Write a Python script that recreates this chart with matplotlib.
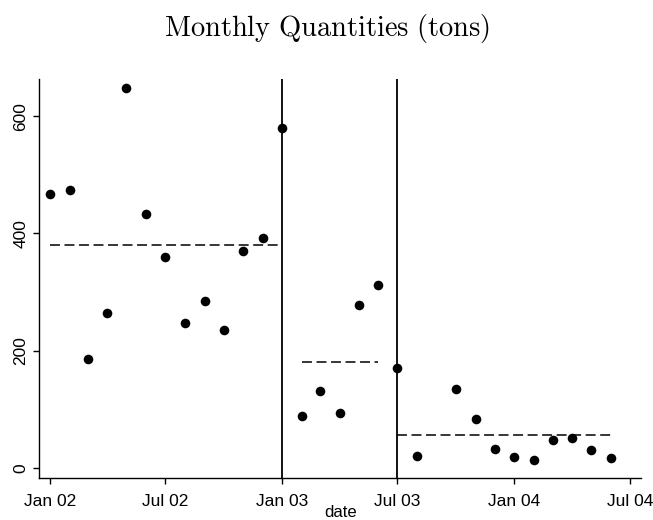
import matplotlib
matplotlib.use("Agg")
import matplotlib.pyplot as plt
import matplotlib.dates as mdates
import numpy as np

# Data
months = ["2002-01", "2002-02", "2002-03", "2002-04", "2002-05", "2002-06",
          "2002-07", "2002-08", "2002-09", "2002-10", "2002-11", "2002-12",
          "2003-01", "2003-02", "2003-03", "2003-04", "2003-05", "2003-06",
          "2003-07", "2003-08", "2003-10", "2003-11", "2003-12",
          "2004-01", "2004-02", "2004-03", "2004-04", "2004-05", "2004-06"]
quantities = [468, 474, 186, 265, 647, 433,
              360, 247, 285, 236, 371, 392,
              579, 89, 132, 95, 279, 312,
              171, 21, 135, 84, 33,
              20, 14, 49, 51, 32, 18]

# Period means (start month, end month)
period_starts = ["2002-01", "2003-02", "2003-07"]
period_ends = ["2003-01", "2003-06", "2004-06"]
break_months = ["2003-01", "2003-07"]

tick_months = ["2002-01", "2002-07", "2003-01", "2003-07", "2004-01", "2004-07"]
tick_labels = ["Jan 02", "Jul 02", "Jan 03", "Jul 03", "Jan 04", "Jul 04"]
yticks = [0, 200, 400, 600]

plt.rcParams['mathtext.fontset'] = 'cm'
plt.rcParams['font.family'] = ['Liberation Sans', 'DejaVu Sans']

dates = np.array(months, dtype="datetime64[M]").astype("datetime64[D]")
q = np.array(quantities, dtype=float)

fig = plt.figure(figsize=(6.53, 5.2), dpi=100)
ax = fig.add_axes([0.0602, 0.0802, 0.9214, 0.7688])

ax.scatter(dates, q, s=48, color="black", zorder=3, linewidths=0)

for s, e in zip(period_starts, period_ends):
    sd = np.datetime64(s, "M").astype("datetime64[D]")
    ed = np.datetime64(e, "M").astype("datetime64[D]")
    mask = (dates >= sd) & (dates <= ed)
    m = q[mask].mean()
    ax.plot([sd, ed], [m, m], color="black", lw=1.1, ls=(0, (6.5, 3.0)), zorder=2)

for b in break_months:
    bd = np.datetime64(b, "M").astype("datetime64[D]")
    ax.axvline(bd, color="black", lw=1.3, zorder=2)

tick_dates = np.array(tick_months, dtype="datetime64[M]").astype("datetime64[D]")
ax.set_xticks(tick_dates)
ax.set_xticklabels(tick_labels, fontsize=12.5)
ax.set_xlim(np.datetime64("2001-12-15"), np.datetime64("2004-07-18"))

ax.set_yticks(yticks)
ax.set_yticklabels([str(v) for v in yticks], fontsize=12.5, rotation=90, va="center")
ax.set_ylim(-17, 664)

ax.spines["top"].set_visible(False)
ax.spines["right"].set_visible(False)
for sp in ["left", "bottom"]:
    ax.spines[sp].set_linewidth(1.0)
ax.tick_params(direction="out", length=4, width=1.0, pad=4)
ax.tick_params(axis="x", pad=7)

ax.set_xlabel("date", fontsize=12, labelpad=-2.5)
fig.text(0.5, 0.945, r"$\mathrm{Monthly\ Quantities\ (tons)}$", ha="center", va="center",
         fontsize=20.5)

fig.savefig("out.png", dpi=100)
